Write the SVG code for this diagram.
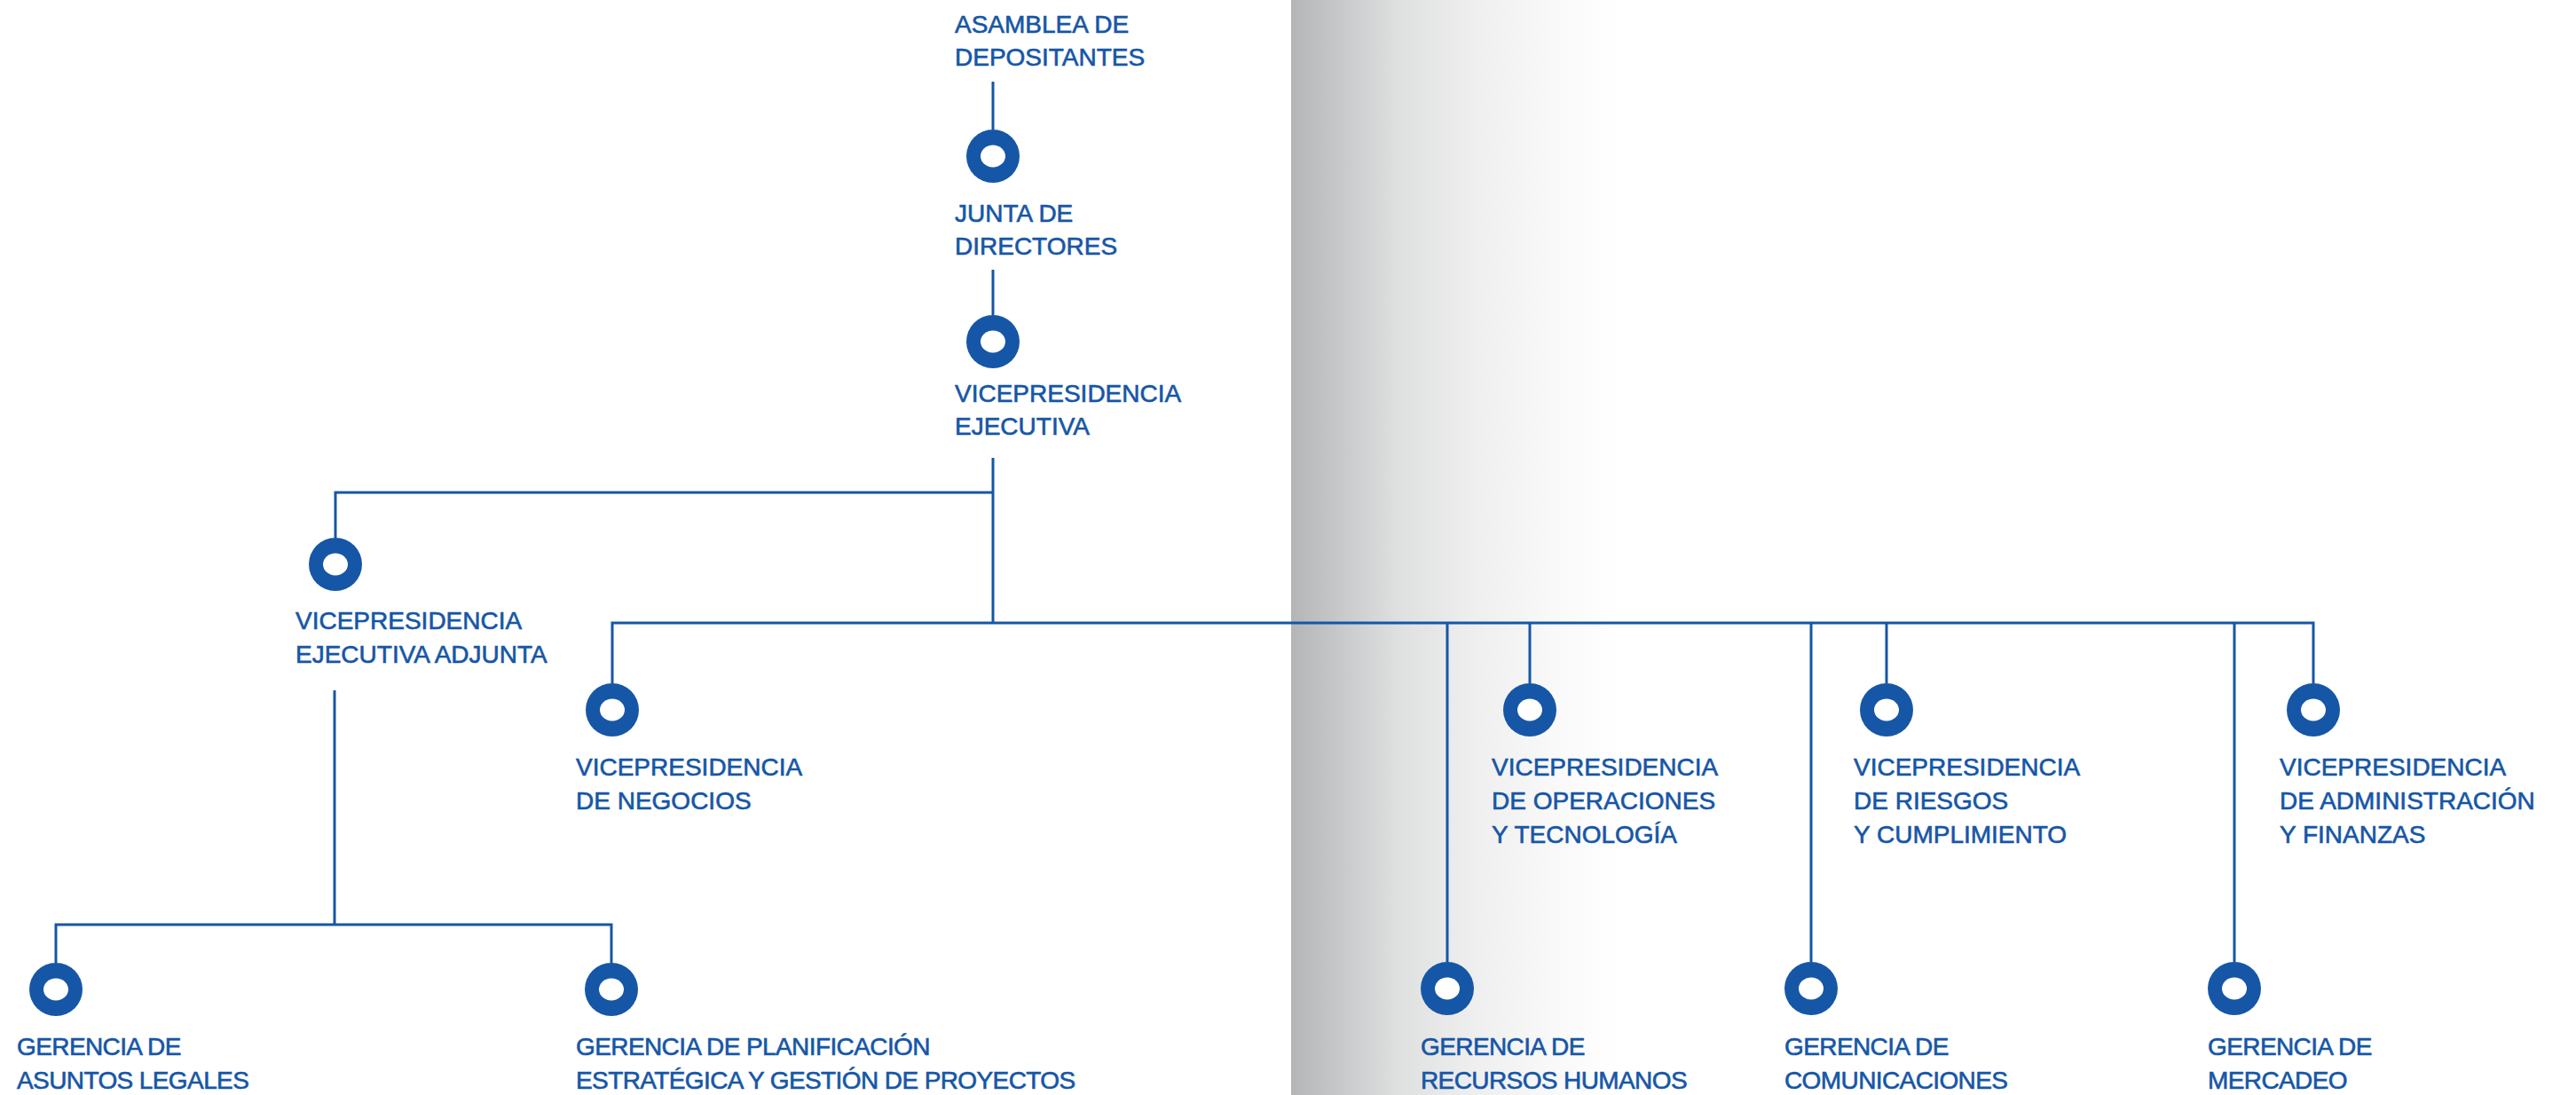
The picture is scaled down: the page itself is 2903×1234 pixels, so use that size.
<svg xmlns="http://www.w3.org/2000/svg" width="2903" height="1234" viewBox="0 0 2903 1234">
<defs>
<linearGradient id="shade" x1="0" y1="0" x2="1" y2="0">
<stop offset="0" stop-color="#b4b5b7"/>
<stop offset="0.33" stop-color="#dfe0e0"/>
<stop offset="0.55" stop-color="#eeeeee"/>
<stop offset="0.8" stop-color="#f9f9f9"/>
<stop offset="1" stop-color="#ffffff"/>
</linearGradient>
<g id="ring">
<circle cx="0" cy="0" r="30" fill="#1656a6"/>
<ellipse cx="0" cy="0" rx="14" ry="12.5" fill="#ffffff"/>
</g>
</defs>
<style>
text{font-family:"Liberation Sans",Arial,sans-serif;font-size:28px;fill:#1656a6;stroke:#1656a6;stroke-width:0.6}
.b text{letter-spacing:-0.6px}
.c{fill:none;stroke:#1656a6;stroke-width:3}
</style>
<rect x="0" y="0" width="2903" height="1234" fill="#ffffff"/>
<rect x="1455" y="0" width="370" height="1234" fill="url(#shade)"/>
<g id="connectors" class="c">
<line x1="1119" y1="92" x2="1119" y2="146"/>
<line x1="1119" y1="304" x2="1119" y2="355"/>
<line x1="1119" y1="516" x2="1119" y2="702"/>
<polyline points="1119,555 378,555 378,606"/>
<line x1="377" y1="778" x2="377" y2="1042"/>
<polyline points="63,1085 63,1042 689,1042 689,1085"/>
<polyline points="690,770 690,702 2607,702 2607,770"/>
<line x1="1631" y1="702" x2="1631" y2="1084"/>
<line x1="1724" y1="702" x2="1724" y2="770"/>
<line x1="2041" y1="702" x2="2041" y2="1084"/>
<line x1="2126" y1="702" x2="2126" y2="770"/>
<line x1="2518" y1="702" x2="2518" y2="1084"/>
</g>
<g id="asamblea">
<text x="1076" y="37">ASAMBLEA DE</text>
<text x="1076" y="74">DEPOSITANTES</text>
</g>
<g id="junta">
<use href="#ring" x="1119" y="176"/>
<text x="1076" y="250">JUNTA DE</text>
<text x="1076" y="287">DIRECTORES</text>
</g>
<g id="vp-ejecutiva">
<use href="#ring" x="1119" y="385"/>
<text x="1076" y="453">VICEPRESIDENCIA</text>
<text x="1076" y="490">EJECUTIVA</text>
</g>
<g id="vp-adjunta">
<use href="#ring" x="378" y="636"/>
<text x="333" y="709">VICEPRESIDENCIA</text>
<text x="333" y="747">EJECUTIVA ADJUNTA</text>
</g>
<g id="g-legales" class="b">
<use href="#ring" x="63" y="1115"/>
<text x="19" y="1189">GERENCIA DE</text>
<text x="19" y="1227">ASUNTOS LEGALES</text>
</g>
<g id="g-planificacion" class="b">
<use href="#ring" x="689" y="1115"/>
<text x="649" y="1189">GERENCIA DE PLANIFICACIÓN</text>
<text x="649" y="1227">ESTRATÉGICA Y GESTIÓN DE PROYECTOS</text>
</g>
<g id="vp-negocios">
<use href="#ring" x="690" y="800"/>
<text x="649" y="874">VICEPRESIDENCIA</text>
<text x="649" y="912">DE NEGOCIOS</text>
</g>
<g id="g-rrhh" class="b">
<use href="#ring" x="1631" y="1114"/>
<text x="1601" y="1189">GERENCIA DE</text>
<text x="1601" y="1227">RECURSOS HUMANOS</text>
</g>
<g id="vp-operaciones">
<use href="#ring" x="1724" y="800"/>
<text x="1681" y="874">VICEPRESIDENCIA</text>
<text x="1681" y="912">DE OPERACIONES</text>
<text x="1681" y="950">Y TECNOLOGÍA</text>
</g>
<g id="g-comunicaciones" class="b">
<use href="#ring" x="2041" y="1114"/>
<text x="2011" y="1189">GERENCIA DE</text>
<text x="2011" y="1227">COMUNICACIONES</text>
</g>
<g id="vp-riesgos">
<use href="#ring" x="2126" y="800"/>
<text x="2089" y="874">VICEPRESIDENCIA</text>
<text x="2089" y="912">DE RIESGOS</text>
<text x="2089" y="950">Y CUMPLIMIENTO</text>
</g>
<g id="g-mercadeo" class="b">
<use href="#ring" x="2518" y="1114"/>
<text x="2488" y="1189">GERENCIA DE</text>
<text x="2488" y="1227">MERCADEO</text>
</g>
<g id="vp-administracion">
<use href="#ring" x="2607" y="800"/>
<text x="2569" y="874">VICEPRESIDENCIA</text>
<text x="2569" y="912">DE ADMINISTRACIÓN</text>
<text x="2569" y="950">Y FINANZAS</text>
</g>
</svg>
